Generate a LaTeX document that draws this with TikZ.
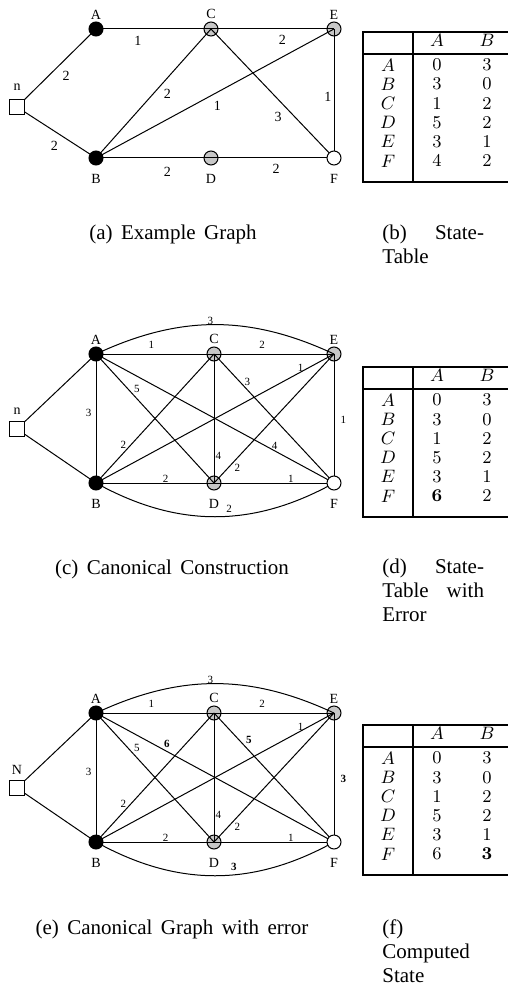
\documentclass[tikz,border=0pt]{standalone}
\usepackage[no-math]{fontspec}
\setmainfont{Liberation Serif}
\usetikzlibrary{backgrounds}
\newcommand\capline[1]{\hbox to 50.8pt{#1}}
\newcommand\capfont{\fontsize{10.5}{12}\selectfont\spaceskip=4.2pt\relax}

\begin{document}
\begin{tikzpicture}[x=0.5pt, y=-0.5pt,
  vtx/.style={circle, draw, line width=0.5pt, minimum size=7pt, inner sep=0pt},
  blk/.style={vtx, fill=black},
  gry/.style={vtx, fill=black, fill opacity=0.22},
  wht/.style={vtx, fill=white},
  src/.style={rectangle, draw, fill=white, line width=0.5pt, minimum size=7.5pt, inner sep=0pt},
  lab/.style={font=\fontsize{7}{8}\selectfont, inner sep=1pt},
  wta/.style={font=\fontsize{7}{8}\selectfont},
  wtc/.style={font=\fontsize{5.5}{6.5}\selectfont},
  edge/.style={line width=0.5pt},
  subcap/.style={font=\capfont, inner sep=0pt},
  rule/.style={line width=1pt},
  cell/.style={font=\fontsize{8.6}{10}\selectfont, inner sep=0pt}]
\useasboundingbox (0,0) rectangle (508,984);

% (a) example graph
\begin{scope}[shift={(0,29)}]
\node[src, label={[lab, label distance=3pt]above:n}] (gn) at (17,78) {};
\node[blk, label={[lab]above:A}] (gA) at (96,0) {};
\node[gry, label={[lab]above:C}] (gC) at (211,0) {};
\node[gry, label={[lab]above:E}] (gE) at (334,0) {};
\node[blk, label={[lab, label distance=3pt]below:B}] (gB) at (96,129) {};
\node[gry, label={[lab, label distance=3pt]below:D}] (gD) at (211,129) {};
\node[wht, label={[lab, label distance=3pt]below:F}] (gF) at (334,129) {};
\begin{scope}[on background layer]
\foreach \u/\v/\w/\p/\an/\is in {n/A/2/0.52/north west/2pt, n/B/2/0.575/north east/2pt,
    A/C/1/0.365/north/3.6pt, C/E/2/0.58/north/3.1pt, B/C/2/0.56/north west/1.5pt,
    B/E/1/0.51/north/4.5pt, C/F/3/0.61/north east/2pt, E/F/1/0.53/east/1.1pt,
    B/D/2/0.62/north/4.6pt, D/F/2/0.53/north/3.1pt}
  \draw[edge] (g\u.center) -- (g\v.center) node[wta, pos=\p, anchor=\an, inner sep=\is] {\w};
\end{scope}
\end{scope}

% (b) state table
\begin{scope}[shift={(0,32)}]
\draw[rule] (508,0) -- (363,0) -- (363,150) -- (508,150);
\draw[rule] (413,0) -- (413,150);
\draw[rule] (363,22) -- (508,22);
\node[cell] (bhA) at (437,8.5) {$A$};
\node[cell] (bhB) at (487,8.5) {$B$};
\foreach \r/\va/\vb [count=\i] in {A/0/3, B/3/0, C/1/2, D/5/2, E/3/1, F/4/2} {
  \node[cell] (b\r) at (388,13.8+19.2*\i) {$\r$};
  \node[cell] (b\r-a) at (437,13.8+19.2*\i) {$\va$};
  \node[cell] (b\r-b) at (487,13.8+19.2*\i) {$\vb$};
}
\end{scope}

% (c) canonical construction
\begin{scope}[shift={(0,354)}]
\node[src, label={[lab, label distance=2pt]above:n}] (cn) at (17,75) {};
\node[blk, label={[lab]above:A}] (cA) at (96,0) {};
\node[gry, label={[lab]above:C}] (cC) at (214,0) {};
\node[gry, label={[lab]above:E}] (cE) at (334,0) {};
\node[blk, label={[lab, label distance=3pt]below:B}] (cB) at (96,129) {};
\node[gry, label={[lab, label distance=3pt]below:D}] (cD) at (214,129) {};
\node[wht, label={[lab, label distance=3pt]below:F}] (cF) at (334,129) {};
\begin{scope}[on background layer]
\draw[edge] (cn) -- (cA.center) (cn) -- (cB.center);
\foreach \u/\v/\w/\p/\an/\is in {A/C/1/0.47/south/2.5pt, C/E/2/0.4/south/2.5pt,
    A/B/3/0.46/east/2.1pt, A/D/5/0.31/south west/0.5pt, A/F/4/0.75/south/0.5pt,
    B/C/2/0.26/south east/0pt, B/E/1/0.86/south/0pt, C/D/4/0.79/west/0.6pt,
    C/F/3/0.25/south west/0pt, D/E/2/0.16/north west/0.5pt, B/D/2/0.59/south/0pt,
    D/F/1/0.64/south/0pt, E/F/1/0.51/west/3.1pt}
  \draw[edge] (c\u.center) -- (c\v.center) node[wtc, pos=\p, anchor=\an, inner sep=\is] {\w};
\draw[edge] (cA.center) to[bend left=25] node[wtc, pos=0.48, anchor=south, inner sep=0pt] {3} (cE.center);
\draw[edge] (cB.center) to[bend right=29] node[wtc, pos=0.56, anchor=south, inner sep=1.4pt] {2} (cF.center);
\end{scope}
\end{scope}

% (d) state table with error
\begin{scope}[shift={(0,367)}]
\draw[rule] (508,0) -- (363,0) -- (363,150) -- (508,150);
\draw[rule] (413,0) -- (413,150);
\draw[rule] (363,22) -- (508,22);
\node[cell] (dhA) at (437,8.5) {$A$};
\node[cell] (dhB) at (487,8.5) {$B$};
\foreach \r/\va/\vb [count=\i] in {A/0/3, B/3/0, C/1/2, D/5/2, E/3/1, F/\mathbf{6}/2} {
  \node[cell] (d\r) at (388,13.8+19.2*\i) {$\r$};
  \node[cell] (d\r-a) at (437,13.8+19.2*\i) {$\va$};
  \node[cell] (d\r-b) at (487,13.8+19.2*\i) {$\vb$};
}
\end{scope}

% (e) canonical graph with error
\begin{scope}[shift={(0,713)}]
\node[src, label={[lab, label distance=1.5pt]above:N}] (en) at (17,75) {};
\node[blk, label={[lab]above:A}] (eA) at (96,0) {};
\node[gry, label={[lab]above:C}] (eC) at (214,0) {};
\node[gry, label={[lab]above:E}] (eE) at (334,0) {};
\node[blk, label={[lab, label distance=3pt]below:B}] (eB) at (96,129) {};
\node[gry, label={[lab, label distance=3pt]below:D}] (eD) at (214,129) {};
\node[wht, label={[lab, label distance=3pt]below:F}] (eF) at (334,129) {};
\begin{scope}[on background layer]
\draw[edge] (en) -- (eA.center) (en) -- (eB.center);
\foreach \u/\v/\w/\p/\an/\is in {A/C/1/0.47/south/2.5pt, C/E/2/0.4/south/2.5pt,
    A/B/3/0.46/east/2.1pt, A/D/5/0.31/south west/0.5pt, A/F/\textbf{6}/0.28/south west/0.5pt,
    B/C/2/0.26/south east/0pt, B/E/1/0.86/south/0pt, C/D/4/0.79/west/0.6pt,
    C/F/\textbf{5}/0.25/south west/0.8pt, D/E/2/0.16/north west/0.5pt, B/D/2/0.59/south/0pt,
    D/F/1/0.64/south/0pt, E/F/\textbf{3}/0.51/west/3.1pt}
  \draw[edge] (e\u.center) -- (e\v.center) node[wtc, pos=\p, anchor=\an, inner sep=\is] {\w};
\draw[edge] (eA.center) to[bend left=25] node[wtc, pos=0.48, anchor=south, inner sep=0pt] {3} (eE.center);
\draw[edge] (eB.center) to[bend right=29] node[wtc, pos=0.58, anchor=south, inner sep=1.8pt] {\textbf{3}} (eF.center);
\end{scope}
\end{scope}

% (f) computed state
\begin{scope}[shift={(0,725)}]
\draw[rule] (508,0) -- (363,0) -- (363,150) -- (508,150);
\draw[rule] (413,0) -- (413,150);
\draw[rule] (363,22) -- (508,22);
\node[cell] (fhA) at (437,8.5) {$A$};
\node[cell] (fhB) at (487,8.5) {$B$};
\foreach \r/\va/\vb [count=\i] in {A/0/3, B/3/0, C/1/2, D/5/2, E/3/1, F/6/\mathbf{3}} {
  \node[cell] (f\r) at (388,13.8+19.2*\i) {$\r$};
  \node[cell] (f\r-a) at (437,13.8+19.2*\i) {$\va$};
  \node[cell] (f\r-b) at (487,13.8+19.2*\i) {$\vb$};
}
\end{scope}

% sub-captions
\node[subcap, anchor=base] (capa) at (173,240) {(a) Example Graph};
\node[subcap, anchor=north west, align=left] (capb) at (382,225) {\capline{(b)\hfill State-}\\Table};
\node[subcap, anchor=base] (capc) at (172,574) {(c) Canonical Construction};
\node[subcap, anchor=north west, align=left] (capd) at (382,559) {\capline{(d)\hfill State-}\\\capline{Table\hfill with}\\Error};
\node[subcap, anchor=base] (cape) at (172,934) {(e) Canonical Graph with error};
\node[subcap, anchor=north west, align=left] (capf) at (382,919) {(f)\\Computed\\State};
\end{tikzpicture}
\end{document}
